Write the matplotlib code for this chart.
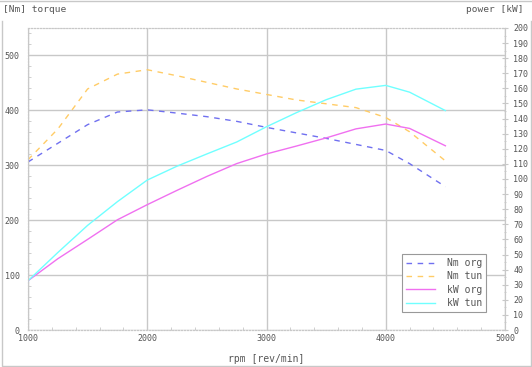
import matplotlib
matplotlib.use("Agg")
import matplotlib.pyplot as plt
from matplotlib.lines import Line2D
from matplotlib.ticker import MultipleLocator

# data
rpm = [1000, 1250, 1500, 1750, 2000, 2250, 2500, 2750, 3000, 3250, 3500, 3750, 4000, 4200, 4500]
nm_org = [306, 340, 374, 397, 401, 395, 388.5, 380, 369, 359, 349, 338, 327, 303, 261]
nm_tun = [310, 366, 439, 466, 474, 463, 451, 439, 429, 419, 412, 405, 387, 361, 308]
kw_org = [32.6, 47.2, 60, 73, 83, 92.5, 101.7, 110.2, 116.6, 121.8, 127.2, 133.2, 136.4, 133.5, 122]
kw_tun = [32.6, 51.3, 69.3, 85, 99.3, 108.5, 116.6, 124.5, 134.6, 143.9, 152.5, 159.5, 162, 157.5, 145.3]

txt = "#555555"
grid = "#c8c8c8"
mono = "DejaVu Sans Mono"

fig = plt.figure(figsize=(5.32, 3.67), dpi=100)
ax = fig.add_axes([28/532, 1-330/367, 477/532, 302/367])
ax2 = ax.twinx()

# outer frame
fig.add_artist(Line2D([0, 1], [1-1/367, 1-1/367], transform=fig.transFigure, color=grid, lw=1))
fig.add_artist(Line2D([1.5/532, 1.5/532, 530.5/532, 530.5/532], [1-21/367, 1-366/367, 1-366/367, 1-21/367],
                      transform=fig.transFigure, color=grid, lw=1))

l1, = ax.plot(rpm, nm_org, color="#7070f0", lw=1, dashes=(4, 4), label="Nm org")
l2, = ax.plot(rpm, nm_tun, color="#ffcc66", lw=1, dashes=(4, 4), label="Nm tun")
l3, = ax2.plot(rpm, kw_org, color="#f070f0", lw=1, label="kW org")
l4, = ax2.plot(rpm, kw_tun, color="#70ffff", lw=1, label="kW tun")

ax.set_xlim(1000, 5000)
ax.set_ylim(0, 550)
ax2.set_ylim(0, 200)

ax.xaxis.set_major_locator(MultipleLocator(1000))
ax.xaxis.set_minor_locator(MultipleLocator(200))
ax.yaxis.set_major_locator(MultipleLocator(100))
ax.yaxis.set_minor_locator(MultipleLocator(20))
ax2.yaxis.set_major_locator(MultipleLocator(10))
ax2.yaxis.set_minor_locator(MultipleLocator(5))

ax.grid(True, which="major", color=grid, lw=1)
ax.set_axisbelow(True)

ax.tick_params(which="both", direction="in", colors=grid, labelcolor=txt, labelsize=6)
ax.tick_params(which="major", length=0)
ax.tick_params(which="minor", length=2)
ax.tick_params(axis="y", pad=6)
ax.tick_params(axis="x", pad=3)
ax2.tick_params(which="both", direction="inout", colors=grid, labelcolor=txt, labelsize=6, pad=4)
ax2.tick_params(which="major", length=4)
ax2.tick_params(which="minor", length=2)

for a in (ax, ax2):
    for lab in a.get_xticklabels() + a.get_yticklabels():
        lab.set_family(mono)
    for s in a.spines.values():
        s.set_color(grid)
        s.set_linestyle(":")
        s.set_linewidth(0.8)
ax2.spines["right"].set_linestyle("-")

fig.text(3/532, 1-10/367, "[Nm] torque", family=mono, fontsize=6.8, color=txt, va="center", ha="left")
fig.text(523/532, 1-10/367, "power [kW]", family=mono, fontsize=6.8, color=txt, va="center", ha="right")
ax.set_xlabel("rpm [rev/min]", family=mono, fontsize=7, color=txt, labelpad=8)

leg = ax2.legend(handles=[l1, l2, l3, l4], loc="lower right", bbox_to_anchor=(486/532, 1-312/367),
                 bbox_transform=fig.transFigure, prop={"family": mono, "size": 7}, fancybox=False,
                 framealpha=1, edgecolor="#999999", handlelength=3.0, handletextpad=1.2,
                 labelspacing=0.35, borderpad=0.4, borderaxespad=0)
leg.get_frame().set_linewidth(0.8)
for t in leg.get_texts():
    t.set_color(txt)

fig.savefig("out.png", dpi=100)
